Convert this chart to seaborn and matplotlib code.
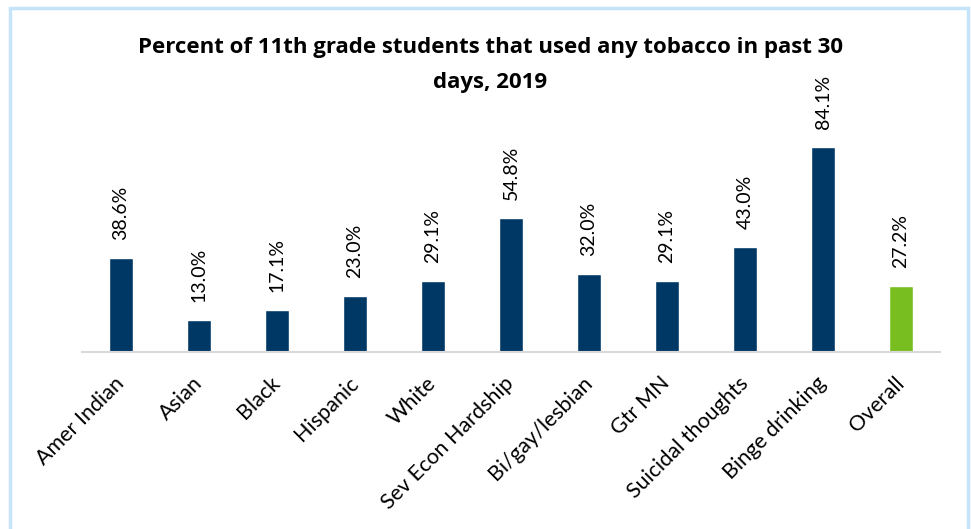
import matplotlib
matplotlib.use("Agg")
import matplotlib.pyplot as plt
import matplotlib.transforms as mtransforms
import seaborn as sns
import pandas as pd
from matplotlib.patches import Rectangle

categories = ["Amer Indian", "Asian", "Black", "Hispanic", "White", "Sev Econ Hardship",
              "Bi/gay/lesbian", "Gtr MN", "Suicidal thoughts", "Binge drinking", "Overall"]
values = [38.6, 13.0, 17.1, 23.0, 29.1, 54.8, 32.0, 29.1, 43.0, 84.1, 27.2]
value_labels = ["38.6%", "13.0%", "17.1%", "23.0%", "29.1%", "54.8%", "32.0%", "29.1%", "43.0%", "84.1%", "27.2%"]
title_lines = ["Percent of 11th grade students that used any tobacco in past 30", "days, 2019"]

navy = "#003865"
green = "#78BE20"
colors = [navy] * (len(categories) - 1) + [green]

sns.set_theme(style="white")
plt.rcParams['font.family'] = ['Lato', 'DejaVu Sans']

df = pd.DataFrame({"cat": categories, "val": values})

fig = plt.figure(figsize=(9.71, 5.29), dpi=100)
ax = fig.add_axes([82/971, 1 - 352/529, (940-82)/971, 244/529])
sns.barplot(data=df, x="cat", y="val", hue="cat", palette=colors, legend=False,
            width=0.32, ax=ax, saturation=1)
ax.set_ylim(0, 100)
ax.set_xlim(-0.5, len(categories) - 0.5)
ax.set_xlabel("")
ax.set_ylabel("")
ax.set_yticks([])
for s in ["top", "right", "left"]:
    ax.spines[s].set_visible(False)
ax.spines["bottom"].set_color("#D9D9D9")
ax.spines["bottom"].set_linewidth(1.5)
ax.tick_params(axis="x", length=0, pad=5)
ax.set_xticks(range(len(categories)))
ax.set_xticklabels(categories, rotation=45, ha="right", rotation_mode="anchor",
                   fontsize=15.5, color="black")
shift = mtransforms.ScaledTranslation(-7/100, -14/100, fig.dpi_scale_trans)
for lbl in ax.get_xticklabels():
    lbl.set_transform(lbl.get_transform() + shift)

for i, (v, lab) in enumerate(zip(values, value_labels)):
    ax.annotate(lab, (i, v), xytext=(0, 13), textcoords="offset points",
                rotation=90, ha="center", va="bottom", fontsize=14, color="black")

for y, line in zip([48, 83], title_lines):
    fig.text(490/971, 1 - y/529, line, ha="center", va="center", fontsize=16,
             fontweight="bold", color="black", family=['Open Sans', 'DejaVu Sans'])

border = Rectangle((10/971, -0.05), (968-10)/971, 1.05 - 8/529,
                   transform=fig.transFigure, fill=False, edgecolor="#C5E3F9", linewidth=2.5)
fig.patches.append(border)

fig.savefig("out.png", dpi=100)
